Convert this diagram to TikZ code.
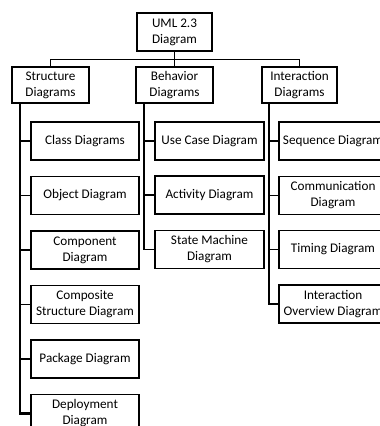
\documentclass[tikz,border=0pt]{standalone}
\usepackage{fontspec}
\setmainfont{Carlito}
\begin{document}
\begin{tikzpicture}[x=1pt,y=-1pt,
  box/.style={draw, line width=1.8pt, inner sep=0pt, align=center, minimum height=38pt,
    font=\fontsize{13.2}{16}\selectfont},
  top/.style={box, minimum width=75pt},
  mid/.style={box, minimum width=77pt, minimum height=36pt},
  child/.style={box, minimum width=108pt},
  conn/.style={line width=1.5pt},
  trunk/.style={line width=1.6pt},
  strunk/.style={line width=2.6pt}]
\useasboundingbox (0,0) rectangle (380,426);
\clip (0,0) rectangle (380,426);
% top
\node[top] (uml) at (174.5,32) {UML 2.3\\Diagram};
\node[mid] (str) at (50.5,85) {Structure\\Diagrams};
\node[mid] (beh) at (174.5,85) {Behavior\\Diagrams};
\node[mid, minimum width=75pt] (int) at (299.5,85) {Interaction\\Diagrams};
\coordinate (hub) at (174.5,59.5);
\draw[conn] (uml.south) -- (hub);
\draw[conn] (str.north) |- (hub) -| (int.north);
\draw[conn] (hub) -- (beh.north);
% structure children
\node[child] (cls) at (85,141) {Class Diagrams};
\node[child] (obj) at (85,195.5) {Object Diagram};
\node[child] (cmp) at (85,250) {Component\\Diagram};
\node[child] (csd) at (85,304.5) {Composite\\Structure Diagram};
\node[child] (pkg) at (85,359) {Package Diagram};
\node[child] (dep) at (85,413.5) {Deployment\\Diagram};
\coordinate (sx) at (20,103);
\draw[strunk] (sx) |- (dep.west);
\foreach \n in {cls,obj,cmp,csd,pkg}{\draw[conn] (sx |- \n.west) -- (\n.west);}
% behavior children
\node[child, minimum width=109pt] (uc) at (209.5,141) {Use Case Diagram};
\node[child, minimum width=109pt] (act) at (209.5,195) {Activity Diagram};
\node[child, minimum width=109pt] (stm) at (209.5,249.5) {State Machine\\Diagram};
\coordinate (bx) at (144,103);
\draw[trunk] (bx) |- (stm.west);
\foreach \n in {uc,act}{\draw[conn] (bx |- \n.west) -- (\n.west);}
% interaction children
\node[child] (seq) at (333,141) {Sequence Diagram};
\node[child] (com) at (333,195.5) {Communication\\Diagram};
\node[child] (tim) at (333,249.5) {Timing Diagram};
\node[child] (iov) at (333,304) {Interaction\\Overview Diagram};
\coordinate (ix) at (269,103);
\draw[trunk] (ix) |- (iov.west);
\foreach \n in {seq,com,tim}{\draw[conn] (ix |- \n.west) -- (\n.west);}
\end{tikzpicture}
\end{document}
